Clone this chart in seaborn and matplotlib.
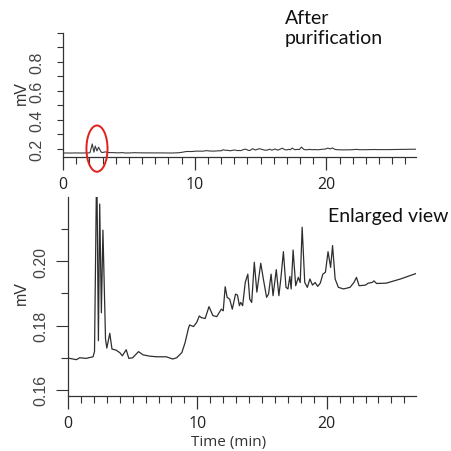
import matplotlib
matplotlib.use("Agg")
import matplotlib.pyplot as plt
from matplotlib.patches import Ellipse
from matplotlib.ticker import MultipleLocator, FixedLocator
import seaborn as sns
import pandas as pd

# Chromatogram (time in min, signal in mV)
time_min = [0.0, 0.65, 0.9, 1.4, 1.94, 2.05, 2.22, 2.35, 2.45, 2.58, 2.7, 2.9, 3.0,
            3.23, 3.4, 3.7, 4.0, 4.2, 4.5, 4.7, 5.0, 5.45, 5.8, 6.3, 6.85, 7.6, 8.1,
            8.4, 8.8, 9.05, 9.3, 9.4, 9.7, 9.95, 10.15, 10.3, 10.6, 10.9, 11.2, 11.5,
            11.85, 12.0, 12.15, 12.3, 12.5, 12.7, 12.95, 13.1, 13.25, 13.35, 13.5,
            13.7, 13.9, 14.05, 14.2, 14.4, 14.6, 14.9, 15.1, 15.35, 15.5, 15.7, 15.85,
            16.1, 16.3, 16.45, 16.65, 16.85, 17.0, 17.15, 17.25, 17.4, 17.6, 17.8,
            17.95, 18.1, 18.3, 18.5, 18.7, 18.9, 19.1, 19.3, 19.5, 19.7, 19.9, 20.1,
            20.3, 20.45, 20.65, 20.9, 21.3, 21.8, 22.1, 22.3, 22.5, 23.0, 23.2, 23.5,
            23.65, 23.85, 24.6, 25.7, 26.9]
signal_mv = [0.1699, 0.1694, 0.1700, 0.1698, 0.1703, 0.1720, 0.2320, 0.1753, 0.2178,
             0.1840, 0.2097, 0.1758, 0.1730, 0.1776, 0.1727, 0.1724, 0.1716, 0.1706,
             0.1725, 0.1698, 0.1700, 0.1719, 0.1709, 0.1705, 0.1703, 0.1703, 0.1696,
             0.1700, 0.1716, 0.1747, 0.1790, 0.1802, 0.1797, 0.1810, 0.1830, 0.1825,
             0.1822, 0.1859, 0.1831, 0.1828, 0.1851, 0.1846, 0.1921, 0.1888, 0.1882,
             0.1851, 0.1898, 0.1895, 0.1862, 0.1872, 0.1862, 0.1934, 0.1960, 0.1882,
             0.1872, 0.1997, 0.1904, 0.1994, 0.1945, 0.1888, 0.1898, 0.1960, 0.1893,
             0.1974, 0.1893, 0.1945, 0.2030, 0.1919, 0.1914, 0.1953, 0.1914, 0.2035,
             0.1924, 0.1950, 0.1934, 0.2106, 0.1934, 0.1919, 0.1945, 0.1926, 0.1934,
             0.1922, 0.1932, 0.1960, 0.1966, 0.2030, 0.1981, 0.2049, 0.1945, 0.1919,
             0.1914, 0.1919, 0.1934, 0.1950, 0.1924, 0.1926, 0.1932, 0.1934, 0.1939,
             0.1931, 0.1932, 0.1945, 0.1962]

top_yticks = [0.2, 0.4, 0.6, 0.8]
top_yminor = [0.3, 0.5, 0.7, 0.9, 1.0]
bot_yticks = [0.16, 0.18, 0.20]
bot_yminor = [0.17, 0.19, 0.21]
xticks = [0, 10, 20]
title_top = "After\npurification"
title_bot = "Enlarged view"
xlabel = "Time (min)"
ylabel = "mV"

df = pd.DataFrame({"time": time_min, "mv": signal_mv})

sns.set_style("ticks")
plt.rcParams["font.family"] = ["Liberation Sans", "DejaVu Sans"]

W, H = 451, 452
fig = plt.figure(figsize=(W / 100, H / 100), dpi=100)

def fx(px):
    return px / W

def fy(py):
    return 1 - py / H

ax1 = fig.add_axes([fx(63), fy(158), fx(416) - fx(63), fy(34) - fy(158)])
ax2 = fig.add_axes([fx(68), fy(397), fx(416) - fx(68), fy(198) - fy(397)])

sns.lineplot(data=df, x="time", y="mv", ax=ax1, color="#3a3a3a", linewidth=0.8,
             estimator=None, sort=False)
sns.lineplot(data=df, x="time", y="mv", ax=ax2, color="#2e2e2e", linewidth=0.9,
             estimator=None, sort=False)

axis_col = "#333333"
for ax in (ax1, ax2):
    sns.despine(ax=ax)
    ax.set_xlabel("")
    ax.set_ylabel("")
    for s in ("left", "bottom"):
        ax.spines[s].set_color(axis_col)
        ax.spines[s].set_linewidth(0.9)
    ax.xaxis.set_major_locator(FixedLocator(xticks))
    ax.xaxis.set_minor_locator(MultipleLocator(1))
    ax.tick_params(axis="x", which="major", length=9, width=0.9, color=axis_col,
                   pad=5, labelsize=11.5, labelcolor="#222222")
    ax.tick_params(axis="x", which="minor", length=5, width=0.8, color=axis_col)

ax1.set_xlim(0, 26.8)
ax1.set_ylim(0.142, 1.0)
ax1.yaxis.set_major_locator(FixedLocator(top_yticks))
ax1.yaxis.set_minor_locator(FixedLocator(top_yminor))
ax1.tick_params(axis="y", which="both", length=4.5, width=0.8, color=axis_col,
                pad=9, labelsize=11.5, labelcolor="#444444", labelrotation=90)

ax2.set_xlim(0, 26.9)
ax2.set_ylim(0.1581, 0.2200)
ax2.yaxis.set_major_locator(FixedLocator(bot_yticks))
ax2.yaxis.set_minor_locator(FixedLocator(bot_yminor))
ax2.yaxis.set_major_formatter(matplotlib.ticker.FormatStrFormatter("%.2f"))
ax2.tick_params(axis="y", which="major", length=9, width=0.8, color=axis_col,
                pad=5, labelsize=11.5, labelcolor="#444444", labelrotation=90)
ax2.tick_params(axis="y", which="minor", length=5, width=0.8, color=axis_col)

for ax in (ax1, ax2):
    for lab in ax.get_yticklabels():
        lab.set_va("center")
    for lab in ax.get_xticklabels():
        lab.set_fontfamily(["Open Sans", "DejaVu Sans"])

# red ellipse marking the early peaks
ell = Ellipse((2.58, 0.20), width=1.6, height=0.32, fill=False, edgecolor="#e0201b",
              linewidth=1.4, clip_on=False, zorder=5)
ax1.add_patch(ell)

fig.text(fx(21), fy(93), ylabel, rotation=90, ha="center", va="center",
         fontsize=11.5, color="#333333")
fig.text(fx(21), fy(293), ylabel, rotation=90, ha="center", va="center",
         fontsize=11.5, color="#333333")
fig.text(fx(285), fy(10), title_top, ha="left", va="top", fontsize=14,
         family=["Lato", "DejaVu Sans"], color="#111111", linespacing=1.2)
fig.text(fx(328), fy(222), title_bot, ha="left", va="baseline", fontsize=14,
         family=["Lato", "DejaVu Sans"], color="#111111")
fig.text(fx(229), fy(446), xlabel, ha="center", va="baseline", fontsize=11,
         family=["Open Sans", "DejaVu Sans"], color="#333333")

fig.savefig("out.png", dpi=100)
